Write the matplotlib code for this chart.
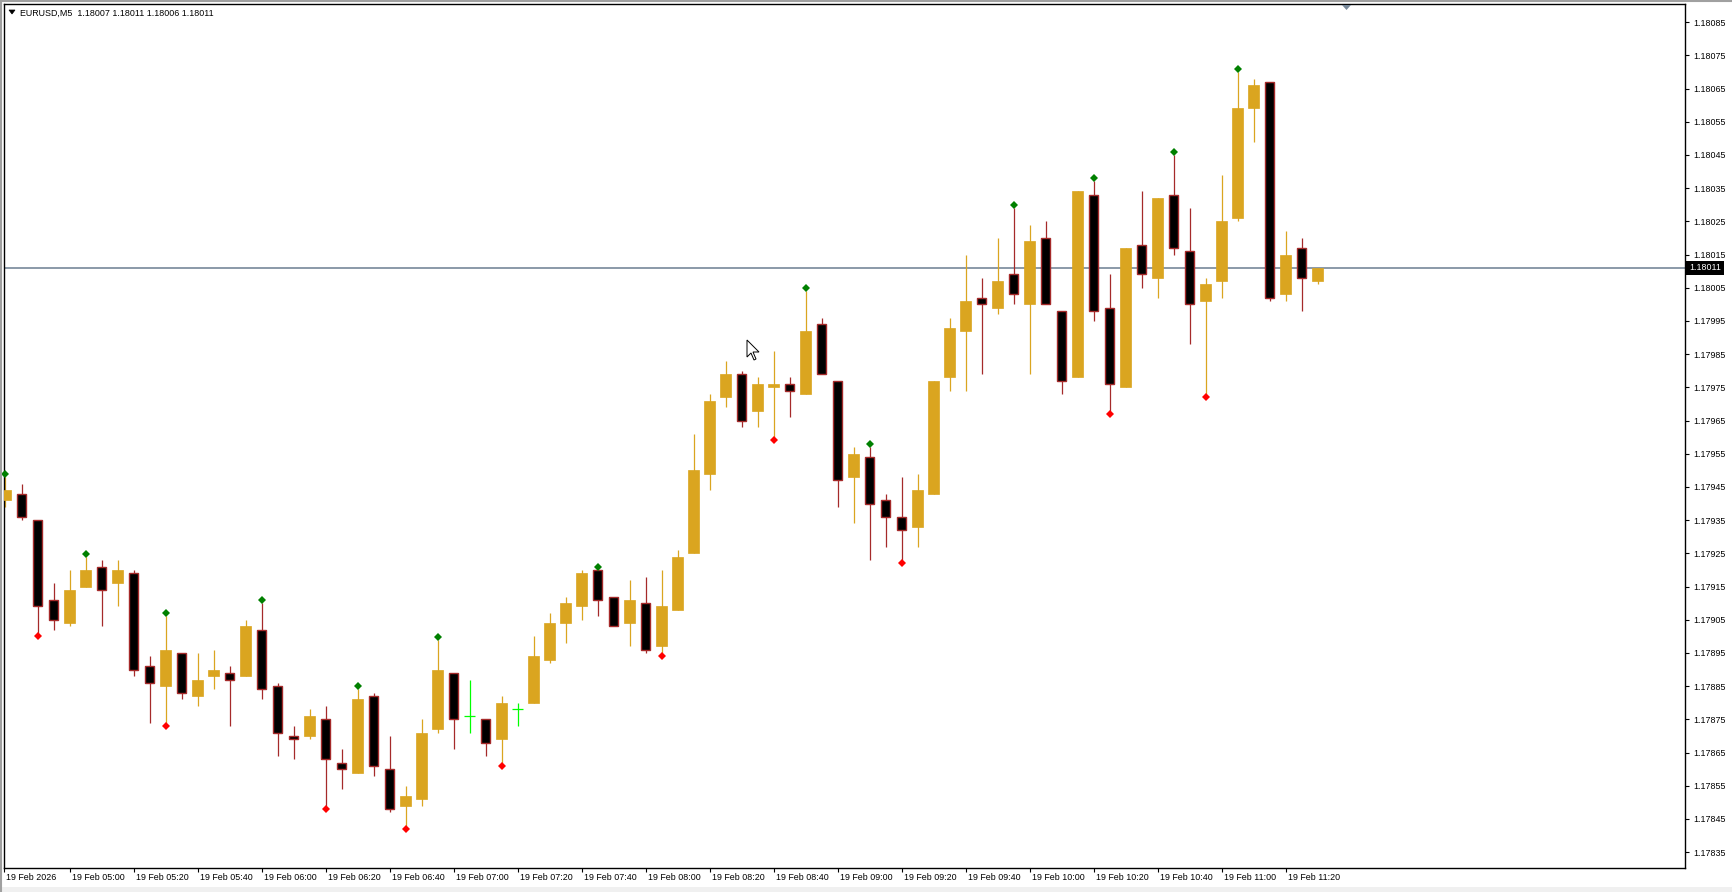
import matplotlib
matplotlib.use("Agg")
import matplotlib.pyplot as plt
import matplotlib.transforms as mtransforms
from matplotlib.patches import Polygon
from matplotlib.ticker import FormatStrFormatter
import numpy as np
import pandas as pd

plt.rcParams['font.family'] = ['Liberation Sans', 'DejaVu Sans']

symbol = "EURUSD,M5"
times = pd.date_range("2026-02-19 04:40", periods=83, freq="5min")

opens = [1.17941, 1.17943, 1.17935, 1.17911, 1.17904, 1.17915, 1.17921, 1.17916, 1.17919, 1.17891,
         1.17885, 1.17895, 1.17882, 1.17888, 1.17889, 1.17888, 1.17902, 1.17885, 1.17870, 1.17870,
         1.17875, 1.17862, 1.17859, 1.17882, 1.17860, 1.17849, 1.17851, 1.17872, 1.17889, 1.17876,
         1.17875, 1.17869, 1.17878, 1.17880, 1.17893, 1.17904, 1.17909, 1.17920, 1.17912, 1.17904,
         1.17910, 1.17897, 1.17908, 1.17925, 1.17949, 1.17972, 1.17979, 1.17968, 1.17975, 1.17976,
         1.17973, 1.17994, 1.17977, 1.17948, 1.17954, 1.17941, 1.17936, 1.17933, 1.17943, 1.17978,
         1.17992, 1.18002, 1.17999, 1.18009, 1.18000, 1.18020, 1.17998, 1.17978, 1.18033, 1.17999,
         1.17975, 1.18018, 1.18008, 1.18033, 1.18016, 1.18001, 1.18007, 1.18026, 1.18059, 1.18067,
         1.18003, 1.18017, 1.18007]
highs = [1.17948, 1.17946, 1.17935, 1.17916, 1.17920, 1.17924, 1.17923, 1.17923, 1.17920, 1.17894,
         1.17906, 1.17895, 1.17895, 1.17896, 1.17891, 1.17905, 1.17910, 1.17886, 1.17873, 1.17878,
         1.17879, 1.17866, 1.17884, 1.17883, 1.17870, 1.17855, 1.17875, 1.17899, 1.17889, 1.17887,
         1.17875, 1.17882, 1.17880, 1.17900, 1.17907, 1.17912, 1.17920, 1.17920, 1.17912, 1.17917,
         1.17918, 1.17920, 1.17926, 1.17961, 1.17973, 1.17983, 1.17980, 1.17978, 1.17986, 1.17978,
         1.18004, 1.17996, 1.17977, 1.17957, 1.17957, 1.17943, 1.17948, 1.17949, 1.17977, 1.17996,
         1.18015, 1.18008, 1.18020, 1.18029, 1.18024, 1.18025, 1.17998, 1.18034, 1.18037, 1.18009,
         1.18017, 1.18034, 1.18032, 1.18045, 1.18029, 1.18008, 1.18039, 1.18070, 1.18068, 1.18067,
         1.18022, 1.18020, 1.18011]
lows = [1.17939, 1.17935, 1.17901, 1.17902, 1.17903, 1.17915, 1.17903, 1.17909, 1.17888, 1.17874,
        1.17874, 1.17881, 1.17879, 1.17884, 1.17873, 1.17888, 1.17881, 1.17864, 1.17863, 1.17869,
        1.17849, 1.17854, 1.17859, 1.17858, 1.17847, 1.17843, 1.17849, 1.17871, 1.17866, 1.17871,
        1.17864, 1.17862, 1.17873, 1.17880, 1.17892, 1.17898, 1.17905, 1.17906, 1.17903, 1.17897,
        1.17895, 1.17895, 1.17908, 1.17925, 1.17944, 1.17969, 1.17963, 1.17963, 1.17960, 1.17966,
        1.17973, 1.17979, 1.17939, 1.17934, 1.17923, 1.17927, 1.17923, 1.17927, 1.17943, 1.17974,
        1.17974, 1.17979, 1.17997, 1.18000, 1.17979, 1.18000, 1.17973, 1.17978, 1.17995, 1.17968,
        1.17975, 1.18005, 1.18002, 1.18015, 1.17988, 1.17973, 1.18002, 1.18025, 1.18049, 1.18001,
        1.18001, 1.17998, 1.18006]
closes = [1.17944, 1.17936, 1.17909, 1.17905, 1.17914, 1.17920, 1.17914, 1.17920, 1.17890, 1.17886,
          1.17896, 1.17883, 1.17887, 1.17890, 1.17887, 1.17903, 1.17884, 1.17871, 1.17869, 1.17876,
          1.17863, 1.17860, 1.17881, 1.17861, 1.17848, 1.17852, 1.17871, 1.17890, 1.17875, 1.17876,
          1.17868, 1.17880, 1.17878, 1.17894, 1.17904, 1.17910, 1.17919, 1.17911, 1.17903, 1.17911,
          1.17896, 1.17909, 1.17924, 1.17950, 1.17971, 1.17979, 1.17965, 1.17976, 1.17976, 1.17974,
          1.17992, 1.17979, 1.17947, 1.17955, 1.17940, 1.17936, 1.17932, 1.17944, 1.17977, 1.17993,
          1.18001, 1.18000, 1.18007, 1.18003, 1.18019, 1.18000, 1.17977, 1.18034, 1.17998, 1.17976,
          1.18017, 1.18009, 1.18032, 1.18017, 1.18000, 1.18006, 1.18025, 1.18059, 1.18066, 1.18002,
          1.18015, 1.18008, 1.18011]

# bars with a fractal arrow above the high / below the low
fractal_up = [0, 5, 10, 16, 22, 27, 37, 50, 54, 63, 68, 73, 77]
fractal_down = [2, 10, 20, 25, 31, 41, 48, 56, 69, 75]

BULL = "#DAA520"
BEAR = "#A52A2A"
DOJI = "#00FF00"

W, H = 1733, 892
BAR_PX = 16  # pixels per bar
fig = plt.figure(figsize=(W / 100, H / 100), dpi=100)
fig.patch.set_facecolor("white")
ax = fig.add_axes([4 / W, (H - 868) / H, (1685 - 4) / W, (868 - 4) / H])

x = np.arange(len(times))
o = np.array(opens)
hi = np.array(highs)
lo = np.array(lows)
c = np.array(closes)
doji = np.isclose(o, c, rtol=0, atol=1e-7)
up = (c > o) & ~doji
dn = (c < o) & ~doji

# last price line
ax.axhline(c[-1], color="#778899", lw=1.2, zorder=1)

# wicks
ax.vlines(x[up], lo[up], hi[up], color=BULL, lw=0.9, zorder=2)
ax.vlines(x[dn], lo[dn], hi[dn], color=BEAR, lw=0.9, zorder=2)
ax.vlines(x[doji], lo[doji], hi[doji], color=DOJI, lw=0.9, zorder=2)
ax.hlines(o[doji], x[doji] - 0.34, x[doji] + 0.34, color=DOJI, lw=0.9, zorder=3)

# bodies
ax.bar(x[up], c[up] - o[up], bottom=o[up], width=0.66, color=BULL,
       edgecolor=BULL, linewidth=0.5, zorder=3)
ax.bar(x[dn], o[dn] - c[dn], bottom=c[dn], width=0.62, facecolor="black",
       edgecolor=BEAR, linewidth=1.0, zorder=3)

# fractals
up_tr = mtransforms.offset_copy(ax.transData, fig=fig, y=3, units="dots")
dn_tr = mtransforms.offset_copy(ax.transData, fig=fig, y=-3, units="dots")
ax.plot(x[fractal_up], hi[fractal_up], "D", color="#008000", ms=4, mew=0,
        transform=up_tr, zorder=4, clip_on=False)
ax.plot(x[fractal_down], lo[fractal_down], "D", color="#FF0000", ms=4, mew=0,
        transform=dn_tr, zorder=4)

# limits from the pixel layout
ax.set_xlim(-1.5 / BAR_PX, (1685 - 5.5) / BAR_PX)
px_per_pt = 33.2 / 0.0001
ax.set_ylim(1.17835 - (868 - 852.2) / px_per_pt, 1.18085 + (22.1 - 4) / px_per_pt)

# price axis
yticks = np.round(np.arange(1.17835, 1.180851, 0.0001), 5)
ax.yaxis.tick_right()
ax.set_yticks(yticks)
ax.yaxis.set_major_formatter(FormatStrFormatter("%.5f"))
ax.tick_params(axis="y", direction="out", length=3, width=0.8, pad=3,
               labelsize=6.4, colors="black")

# time axis
xt = [ax.get_xlim()[0]] + list(x[4::4])
xl = [f"{times[0]:%d %b %Y}"] + [f"{t:%d %b %H:%M}" for t in times[4::4]]
ax.set_xticks(xt)
ax.set_xticklabels(xl)
ax.tick_params(axis="x", direction="out", length=3, width=0.8, pad=0.5,
               labelsize=6.4, colors="black")
shift = mtransforms.ScaledTranslation(2 / 100, 0, fig.dpi_scale_trans)
for lab in ax.get_xticklabels():
    lab.set_horizontalalignment("left")
    lab.set_transform(lab.get_transform() + shift)

for s in ax.spines.values():
    s.set_color("black")
    s.set_linewidth(1.0)

# current price label
lbl_tr = mtransforms.blended_transform_factory(ax.transAxes, ax.transData)
lbl_tr = lbl_tr + mtransforms.ScaledTranslation(4 / 100, 0, fig.dpi_scale_trans)
ax.text(1.0, c[-1], f"{c[-1]:.5f}", transform=lbl_tr, ha="left", va="center",
        color="white", fontsize=6.4, clip_on=False, zorder=6,
        bbox=dict(boxstyle="square,pad=0.3", fc="black", ec="none"))

# header
header = f"{symbol}  {o[-1]:.5f} {hi[-1]:.5f} {lo[-1]:.5f} {c[-1]:.5f}"
fig.text(20 / W, 1 - 13 / H, header, ha="left", va="center", fontsize=6.4)
ident = mtransforms.IdentityTransform()
fig.add_artist(Polygon([(9, H - 10), (15, H - 10), (12, H - 14)], closed=True,
                       fc="black", ec="black", lw=0.5, transform=ident))

# chart-shift marker
fig.add_artist(Polygon([(1342, H - 5), (1351, H - 5), (1346.5, H - 10)], closed=True,
                       fc="#778899", ec="none", transform=ident))

# mouse cursor
cx, cy = 747, H - 340
cur = [(0, 0), (0, -17), (4, -13), (7, -20), (9, -19), (6, -12), (12, -12)]
fig.add_artist(Polygon([(cx + a, cy + b) for a, b in cur], closed=True,
                       fc="white", ec="black", lw=0.7, transform=ident))

# window frame
fig.add_artist(plt.Line2D([0, W], [H - 0.5, H - 0.5], color="#a0a0a0", lw=1.5, transform=ident))
fig.add_artist(plt.Line2D([0.5, 0.5], [0, H], color="#a0a0a0", lw=1.5, transform=ident))
fig.add_artist(plt.Rectangle((0, 0), W, 5, fc="#f0f0f0", ec="none", transform=ident))

fig.savefig("out.png", dpi=100)
